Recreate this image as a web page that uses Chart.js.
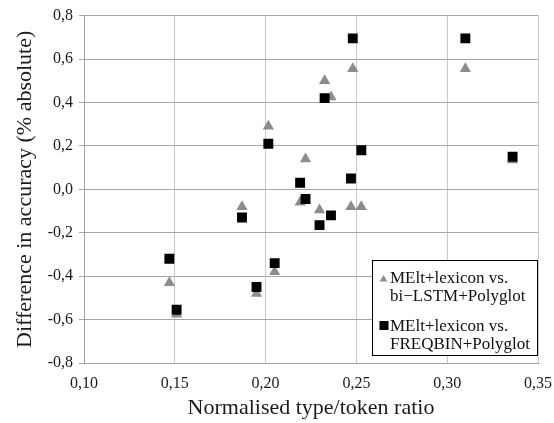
<!DOCTYPE html>
<html>
<head>
<meta charset="utf-8">
<script src="https://cdn.jsdelivr.net/npm/chart.js@4"></script>
<style>
  html, body { margin: 0; padding: 0; background: #fff; }
  #wrap { width: 554px; height: 423px; }
</style>
</head>
<body>
<div id="wrap"><canvas id="grafico"></canvas></div>
<script>
// type/token ratio per language (x)
const ratios = [0.147, 0.151, 0.187, 0.195, 0.2015, 0.205, 0.219, 0.222, 0.2297, 0.2325, 0.236, 0.247, 0.248, 0.2527, 0.310, 0.336];
// differences in accuracy (y)
const vsBiLstm = [-0.43, -0.575, -0.08, -0.48, 0.29, -0.38, -0.06, 0.14, -0.095, 0.50, 0.425, -0.08, 0.555, -0.08, 0.555, 0.135];
const vsFreqbin = [-0.32, -0.555, -0.13, -0.45, 0.21, -0.34, 0.03, -0.045, -0.165, 0.42, -0.12, 0.05, 0.695, 0.18, 0.695, 0.15];

const labelBiLstm = ['MElt+lexicon vs.', 'bi\u2212LSTM+Polyglot'];
const labelFreqbin = ['MElt+lexicon vs.', 'FREQBIN+Polyglot'];

const xTitle = 'Normalised type/token ratio';
const yTitle = 'Difference in accuracy (% absolute)';

const fonte = '"Liberation Serif", Tinos, "Times New Roman", "DejaVu Serif", serif';

function virgula(v, casas) {
  if (Math.abs(v) < 1e-9) v = 0;
  return v.toFixed(casas).replace('.', ',');
}

// legenda desenhada a mao (rotulos em duas linhas)
const legendaCaixa = {
  id: 'legendaCaixa',
  afterDraw(chart) {
    const ctx = chart.ctx;
    const area = chart.chartArea;
    const w = 165, h = 95;
    const x0 = area.right - w - 1, y0 = area.bottom - h - 8;

    ctx.save();
    ctx.fillStyle = '#fff';
    ctx.fillRect(x0, y0, w, h);
    ctx.strokeStyle = '#000';
    ctx.lineWidth = 1;
    ctx.strokeRect(x0 + 0.5, y0 + 0.5, w, h);

    ctx.font = '17px ' + fonte;
    ctx.textBaseline = 'alphabetic';
    ctx.textAlign = 'left';

    chart.data.datasets.forEach((ds, i) => {
      const base = y0 + 23 + i * 48;
      const mx = x0 + 11.5, my = base - 4;
      ctx.fillStyle = ds.backgroundColor;
      ctx.beginPath();
      if (ds.pointStyle === 'triangle') {
        ctx.moveTo(mx, my - 4);
        ctx.lineTo(mx + 3.8, my + 2.5);
        ctx.lineTo(mx - 3.8, my + 2.5);
        ctx.closePath();
        ctx.fill();
      } else {
        ctx.fillRect(mx - 4, my - 6, 9, 9);
      }
      ctx.fillStyle = '#111';
      ds.linhas.forEach((t, j) => ctx.fillText(t, x0 + 18, base + j * 18.3));
    });
    ctx.restore();
  }
};

function desenhar() {
  const ctx = document.getElementById('grafico').getContext('2d');

  new Chart(ctx, {
    type: 'scatter',
    data: {
      datasets: [
        {
          label: labelBiLstm.join(' '),
          linhas: labelBiLstm,
          data: ratios.map((r, i) => ({ x: r, y: vsBiLstm[i] })),
          pointStyle: 'triangle',
          pointRadius: 6.5,
          pointHoverRadius: 6.5,
          borderWidth: 0,
          backgroundColor: '#8c8c8c',
          borderColor: '#8c8c8c',
          order: 2
        },
        {
          label: labelFreqbin.join(' '),
          linhas: labelFreqbin,
          data: ratios.map((r, i) => ({ x: r, y: vsFreqbin[i] })),
          pointStyle: 'rect',
          pointRadius: 7,
          pointHoverRadius: 7,
          borderWidth: 0,
          backgroundColor: '#000000',
          borderColor: '#000000',
          order: 1
        }
      ]
    },
    options: {
      responsive: true,
      maintainAspectRatio: false,
      animation: false,
      layout: { padding: { top: 15, right: 16, left: 0, bottom: 0 } },
      plugins: {
        legend: { display: false },
        tooltip: { enabled: false }
      },
      scales: {
        x: {
          type: 'linear',
          min: 0.10,
          max: 0.35,
          afterFit(scale) { scale.height = 60; },
          ticks: {
            stepSize: 0.05,
            padding: 0,
            color: '#1a1a1a',
            font: { family: fonte, size: 16 },
            callback: v => virgula(v, 2)
          },
          // marcas invisiveis: so afastam os rotulos do eixo
          grid: { color: '#c8c8c8', drawTicks: true, tickLength: 11, tickColor: 'rgba(0,0,0,0)' },
          border: { color: '#a0a0a0' },
          title: {
            display: true,
            text: xTitle,
            color: '#1a1a1a',
            font: { family: fonte, size: 22 },
            padding: { top: 0, bottom: 2 }
          }
        },
        y: {
          type: 'linear',
          min: -0.8,
          max: 0.8,
          afterFit(scale) { scale.width = 84; },
          ticks: {
            stepSize: 0.2,
            padding: 6,
            color: '#1a1a1a',
            font: { family: fonte, size: 16 },
            callback: v => virgula(v, 1)
          },
          grid: { color: '#a6a6a6', tickLength: 5 },
          border: { color: '#a0a0a0' },
          title: {
            display: true,
            text: yTitle,
            color: '#1a1a1a',
            font: { family: fonte, size: 22 },
            padding: { top: 12, bottom: 0 }
          }
        }
      }
    },
    plugins: [legendaCaixa]
  });
}

// garante a fonte serifada antes de desenhar
if (document.fonts && document.fonts.load) {
  Promise.all([
    document.fonts.load('16px "Liberation Serif"'),
    document.fonts.load('22px "Liberation Serif"')
  ]).then(desenhar, desenhar);
} else {
  desenhar();
}
</script>
</body>
</html>
